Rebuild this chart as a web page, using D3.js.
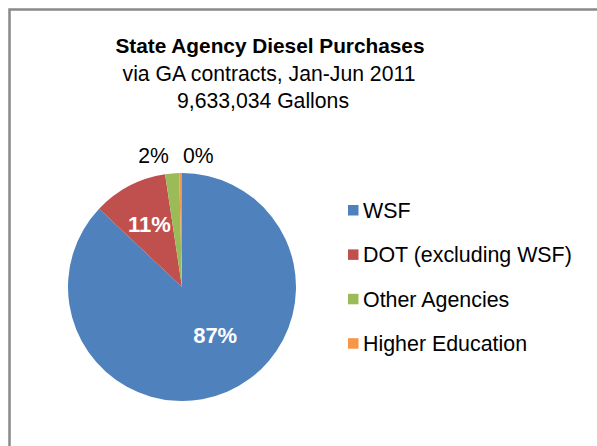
<!DOCTYPE html>
<html>
<head>
<meta charset="utf-8">
<script src="https://cdn.jsdelivr.net/npm/d3@7"></script>
<style>
  html, body { margin: 0; padding: 0; background: #fff; }
  svg { display: block; font-family: "Liberation Sans", Arial, sans-serif; }
</style>
</head>
<body>
<svg id="chart" width="597" height="446"></svg>
<script>
// ---- data ----
const categories = ["WSF", "DOT (excluding WSF)", "Other Agencies", "Higher Education"];
const gallons = [8385000, 1020000, 190000, 38034];
const colors = ["#4F81BD", "#C0504D", "#9BBB59", "#F79646"];
const titleLines = ["State Agency Diesel Purchases", "via GA contracts, Jan-Jun 2011", "9,633,034 Gallons"];

// ---- layout ----
const W = 597, H = 446;
const cx = 182, cy = 287, R = 114;
const svg = d3.select("#chart");

svg.append("rect")
  .attr("x", 9.5).attr("y", 9.5)
  .attr("width", 700).attr("height", 600)
  .attr("fill", "#fff")
  .attr("stroke", "#898989")
  .attr("stroke-width", 2.5);

// titles
const titleX = 269;
svg.append("text").attr("x", titleX + 1).attr("y", 53)
  .attr("text-anchor", "middle").attr("font-size", 20.8).attr("font-weight", "bold")
  .attr("fill", "#000").text(titleLines[0]);
svg.append("text").attr("x", titleX).attr("y", 81)
  .attr("text-anchor", "middle").attr("font-size", 21.2)
  .attr("fill", "#000").text(titleLines[1]);
svg.append("text").attr("x", titleX - 6).attr("y", 108)
  .attr("text-anchor", "middle").attr("font-size", 21.2)
  .attr("fill", "#000").text(titleLines[2]);

// pie
const total = d3.sum(gallons);
const pie = d3.pie().sort(null).value(d => d)(gallons);
const arc = d3.arc().innerRadius(0).outerRadius(R);
const g = svg.append("g").attr("transform", `translate(${cx},${cy})`);

g.selectAll("path").data(pie).join("path")
  .attr("d", arc)
  .attr("fill", (d, i) => colors[i]);

const pctFmt = v => Math.round(v / total * 100) + "%";

// inside labels for big slices
pie.forEach((d, i) => {
  const share = d.value / total;
  let mid = (d.startAngle + d.endAngle) / 2;
  if (share > 0.05) {
    let r = R * 0.62;
    if (share > 0.5) { r = R * 0.51; mid -= 0.2; }
    const x = Math.sin(mid) * r, y = -Math.cos(mid) * r;
    g.append("text")
      .attr("x", x).attr("y", y + 8)
      .attr("text-anchor", "middle")
      .attr("font-size", 22).attr("font-weight", "bold")
      .attr("fill", "#fff")
      .text(pctFmt(d.value));
  }
});

// outside labels for small slices (placed above the pie)
const small = pie.filter(d => d.value / total <= 0.05);
small.forEach((d, k) => {
  const mid = (d.startAngle + d.endAngle) / 2;
  const ry = R + 10;
  const yBase = -ry;
  let x, anchor;
  if (k === 0) { x = Math.sin(mid) * ry - 2.5; anchor = "end"; }
  else { x = 1; anchor = "start"; }
  g.append("text")
    .attr("x", x).attr("y", yBase)
    .attr("text-anchor", anchor)
    .attr("font-size", 21.2)
    .attr("fill", "#000")
    .text(pctFmt(d.value));
});

// legend
const legend = svg.append("g");
categories.forEach((c, i) => {
  const yb = 218 + i * 44.4;
  legend.append("rect")
    .attr("x", 348).attr("y", yb - 13)
    .attr("width", 10.5).attr("height", 10.5)
    .attr("fill", colors[i]);
  legend.append("text")
    .attr("x", 363).attr("y", yb)
    .attr("font-size", 21.4)
    .attr("fill", "#000")
    .text(c);
});
</script>
</body>
</html>
